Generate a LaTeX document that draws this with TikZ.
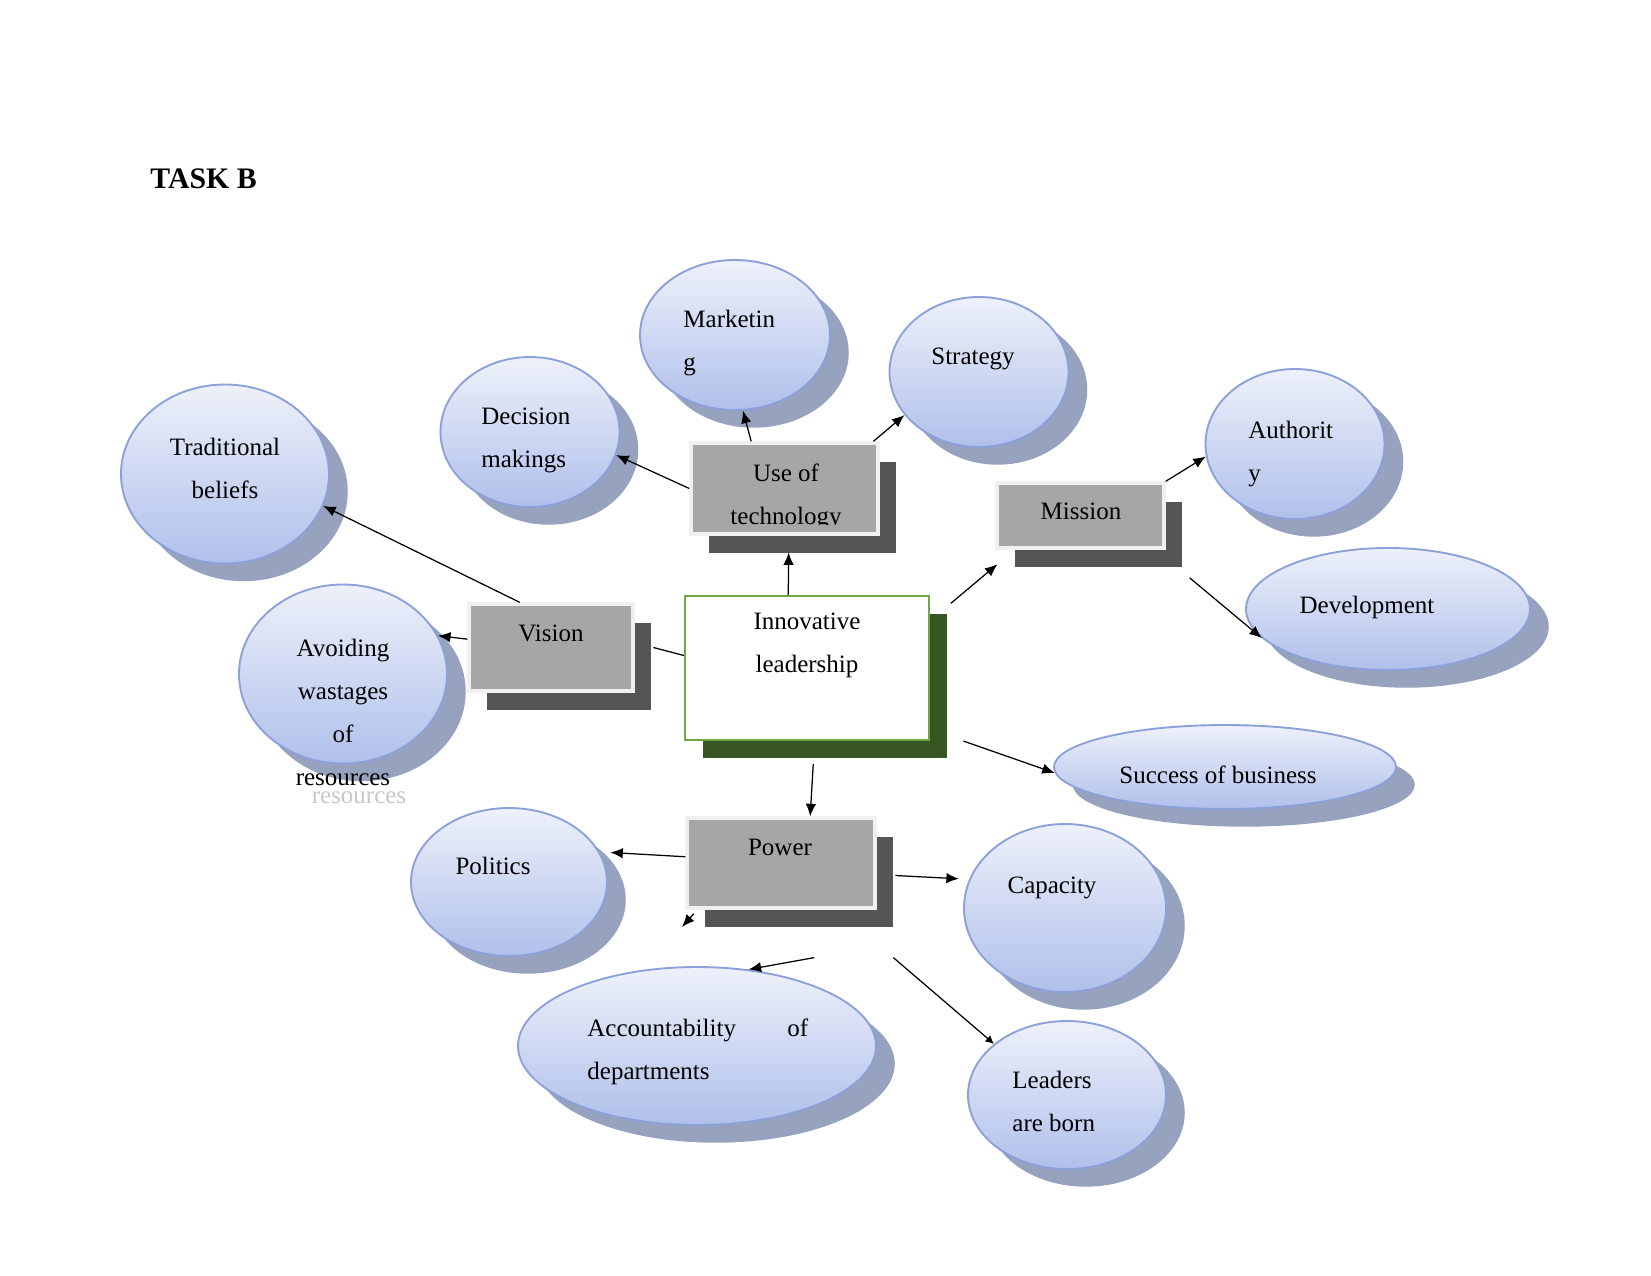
\documentclass[tikz,border=0pt]{standalone}
\usepackage{fontspec}
\setmainfont{Liberation Serif}
\usetikzlibrary{shapes.geometric,shadows,arrows.meta}

\definecolor{bubrim}{RGB}{140,160,218}
\definecolor{bubtop}{RGB}{238,241,250}
\definecolor{bubbot}{RGB}{176,192,235}
\definecolor{bubshade}{RGB}{150,162,190}
\definecolor{boxfill}{RGB}{166,166,166}
\definecolor{boxrim}{RGB}{240,240,240}
\definecolor{boxshade}{RGB}{85,85,85}
\definecolor{leadrim}{RGB}{112,168,71}
\definecolor{leadshade}{RGB}{56,86,35}

\tikzset{
  dims/.style 2 args={minimum width=#1*0.48pt, minimum height=#2*0.48pt},
  bubble/.style={ellipse, draw=bubrim, line width=0.9pt, top color=bubtop,
    bottom color=bubbot, inner sep=0pt,
    drop shadow={shadow xshift=9pt, shadow yshift=-8.5pt, fill=bubshade, opacity=1}},
  greybox/.style={rectangle, draw=boxrim, line width=1.6pt, fill=boxfill, inner sep=0pt,
    drop shadow={shadow xshift=8.5pt, shadow yshift=-9pt, fill=boxshade, opacity=1}},
  mainbox/.style={rectangle, draw=leadrim, line width=1pt, fill=white, inner sep=0pt,
    drop shadow={shadow xshift=8.5pt, shadow yshift=-8.5pt, fill=leadshade, opacity=1}},
  lbl/.style={font=\fontsize{12}{20.6}\selectfont, inner sep=0pt},
  arr/.style={-{Latex[length=6pt,width=5pt]}, line width=0.6pt},
}

\begin{document}
\begin{tikzpicture}[x=0.48pt, y=-0.48pt]
  \useasboundingbox (0,0) rectangle (1651,1275);

  \node[lbl, font=\fontsize{14.3}{16}\selectfont\bfseries, anchor=base west] (title) at (150,188) {TASK B};

  % bubbles
  \node[bubble, dims={190}{150}] (mkt) at (735,335) {};
  \node[bubble, dims={179}{150}] (str) at (979,372) {};
  \node[bubble, dims={179}{150}] (dec) at (530,432) {};
  \node[bubble, dims={208}{179}] (trad) at (225,474) {};
  \node[bubble, dims={179}{150}] (auth) at (1295,444) {};
  \node[bubble, dims={284}{122}] (dev) at (1388,609) {};
  \node[bubble, dims={208}{179}] (avoid) at (343,674) {};
  \node[bubble, dims={342}{84}] (succ) at (1225,767) {};
  \node[bubble, dims={196}{148}] (pol) at (509,882) {};
  \node[bubble, dims={202}{168}] (cap) at (1065,908) {};
  \node[bubble, dims={358}{158}] (acc) at (697,1046) {};
  \node[bubble, dims={198}{148}] (lead) at (1067,1095) {};

  % boxes
  \node[greybox, dims={187}{91}] (tech) at (784.5,488.5) {};
  \node[greybox, dims={167}{65}] (mis) at (1080.5,515.5) {};
  \node[greybox, dims={164}{87}] (vis) at (551,647.5) {};
  \node[greybox, dims={188}{90}] (pow) at (781,863) {};
  \node[mainbox, dims={244}{144}] (innov) at (807,668) {};

  \coordinate (stub) at (682,927);

  % connectors
  \draw[arr] ([xshift=-16pt]tech.north) -- (mkt.-84);
  \draw[arr] (tech.west) -- (dec.-15);
  \draw[arr] ([xshift=-3pt]tech.north east) -- (str.210);
  \draw[arr] ([xshift=-9pt]innov.north) -- ([xshift=2pt,yshift=-8pt]tech.south);
  \draw[arr] ([xshift=10pt,yshift=-4pt]innov.north east) -- ([xshift=1pt,yshift=-7pt]mis.south west);
  \draw[arr] (mis.north east) -- (auth.188);
  \draw[arr] ([xshift=11.5pt,yshift=-13.5pt]mis.south east) -- (dev.193);
  \draw[arr] ([xshift=16pt]innov.south east) -- (succ.182);
  \draw[arr] ([xshift=3pt,yshift=-11pt]innov.south) -- ([xshift=14pt]pow.north);
  \draw[line width=0.6pt] ([xshift=9pt]vis.east) -- ([yshift=6pt]innov.west);
  \draw[arr] ([yshift=4pt]vis.west) -- (avoid.22);
  \draw[arr] ([xshift=-15pt]vis.north) -- (trad.-18);
  \draw[arr] ([yshift=3pt]pow.west) -- ([xshift=5pt]pol.18);
  \draw[arr] ([xshift=9pt,yshift=-6pt]pow.east) -- ([xshift=-5pt]cap.163);
  \draw[arr] ([xshift=4pt,yshift=-2pt]pow.south west) -- (stub);
  \draw[arr] ([xshift=16pt,yshift=-23pt]pow.south) -- (acc.56);
  \draw[line width=0.6pt, -{Latex[length=4pt,width=4pt]}] ([xshift=8pt,yshift=-23pt]pow.south east) -- (lead.145);

  % texts (base anchor sits on the last line)
  \node[lbl, align=left, anchor=base west] (t-mkt) at (683,370) {Marketin\\g};
  \node[lbl, anchor=base] (t-str) at (973,364) {Strategy};
  \node[lbl, align=left, anchor=base west] (t-dec) at (481,467) {Decision\\makings};
  \node[lbl, align=center, anchor=base] (t-trad) at (225,498) {Traditional\\beliefs};
  \node[lbl, align=left, anchor=base west] (t-auth) at (1248,481) {Authorit\\y};
  \node[lbl, anchor=base] (t-dev) at (1367,613) {Development};
  \node[lbl, align=center, anchor=base] (t-avoid) at (343,785) {Avoiding\\wastages\\of\\resources};
  \node[lbl, text=black!22, anchor=base] (t-ghost) at (359,803) {resources};
  \node[lbl, anchor=base] (t-succ) at (1218,783) {Success of business};
  \node[lbl, anchor=base] (t-pol) at (493,874) {Politics};
  \node[lbl, anchor=base] (t-cap) at (1052,893) {Capacity};
  \node[lbl, align=left, anchor=base west] (t-acc) at (587,1079)
    {\makebox[106pt][s]{Accountability\hfill of}\\departments};
  \node[lbl, align=left, anchor=base west] (t-lead) at (1012,1131) {Leaders\\are born};
  \begin{scope}
    \clip (tech.north west) rectangle ([yshift=5.5pt]tech.south east);
    \node[lbl, align=center, anchor=base] (t-tech) at (786,524) {Use of\\technology};
  \end{scope}
  \node[lbl, anchor=base] (t-mis) at (1081,519) {Mission};
  \node[lbl, anchor=base] (t-vis) at (551,641) {Vision};
  \node[lbl, anchor=base] (t-pow) at (780,855) {Power};
  \node[lbl, align=center, anchor=base] (t-innov) at (807,672) {Innovative\\leadership};
\end{tikzpicture}
\end{document}
